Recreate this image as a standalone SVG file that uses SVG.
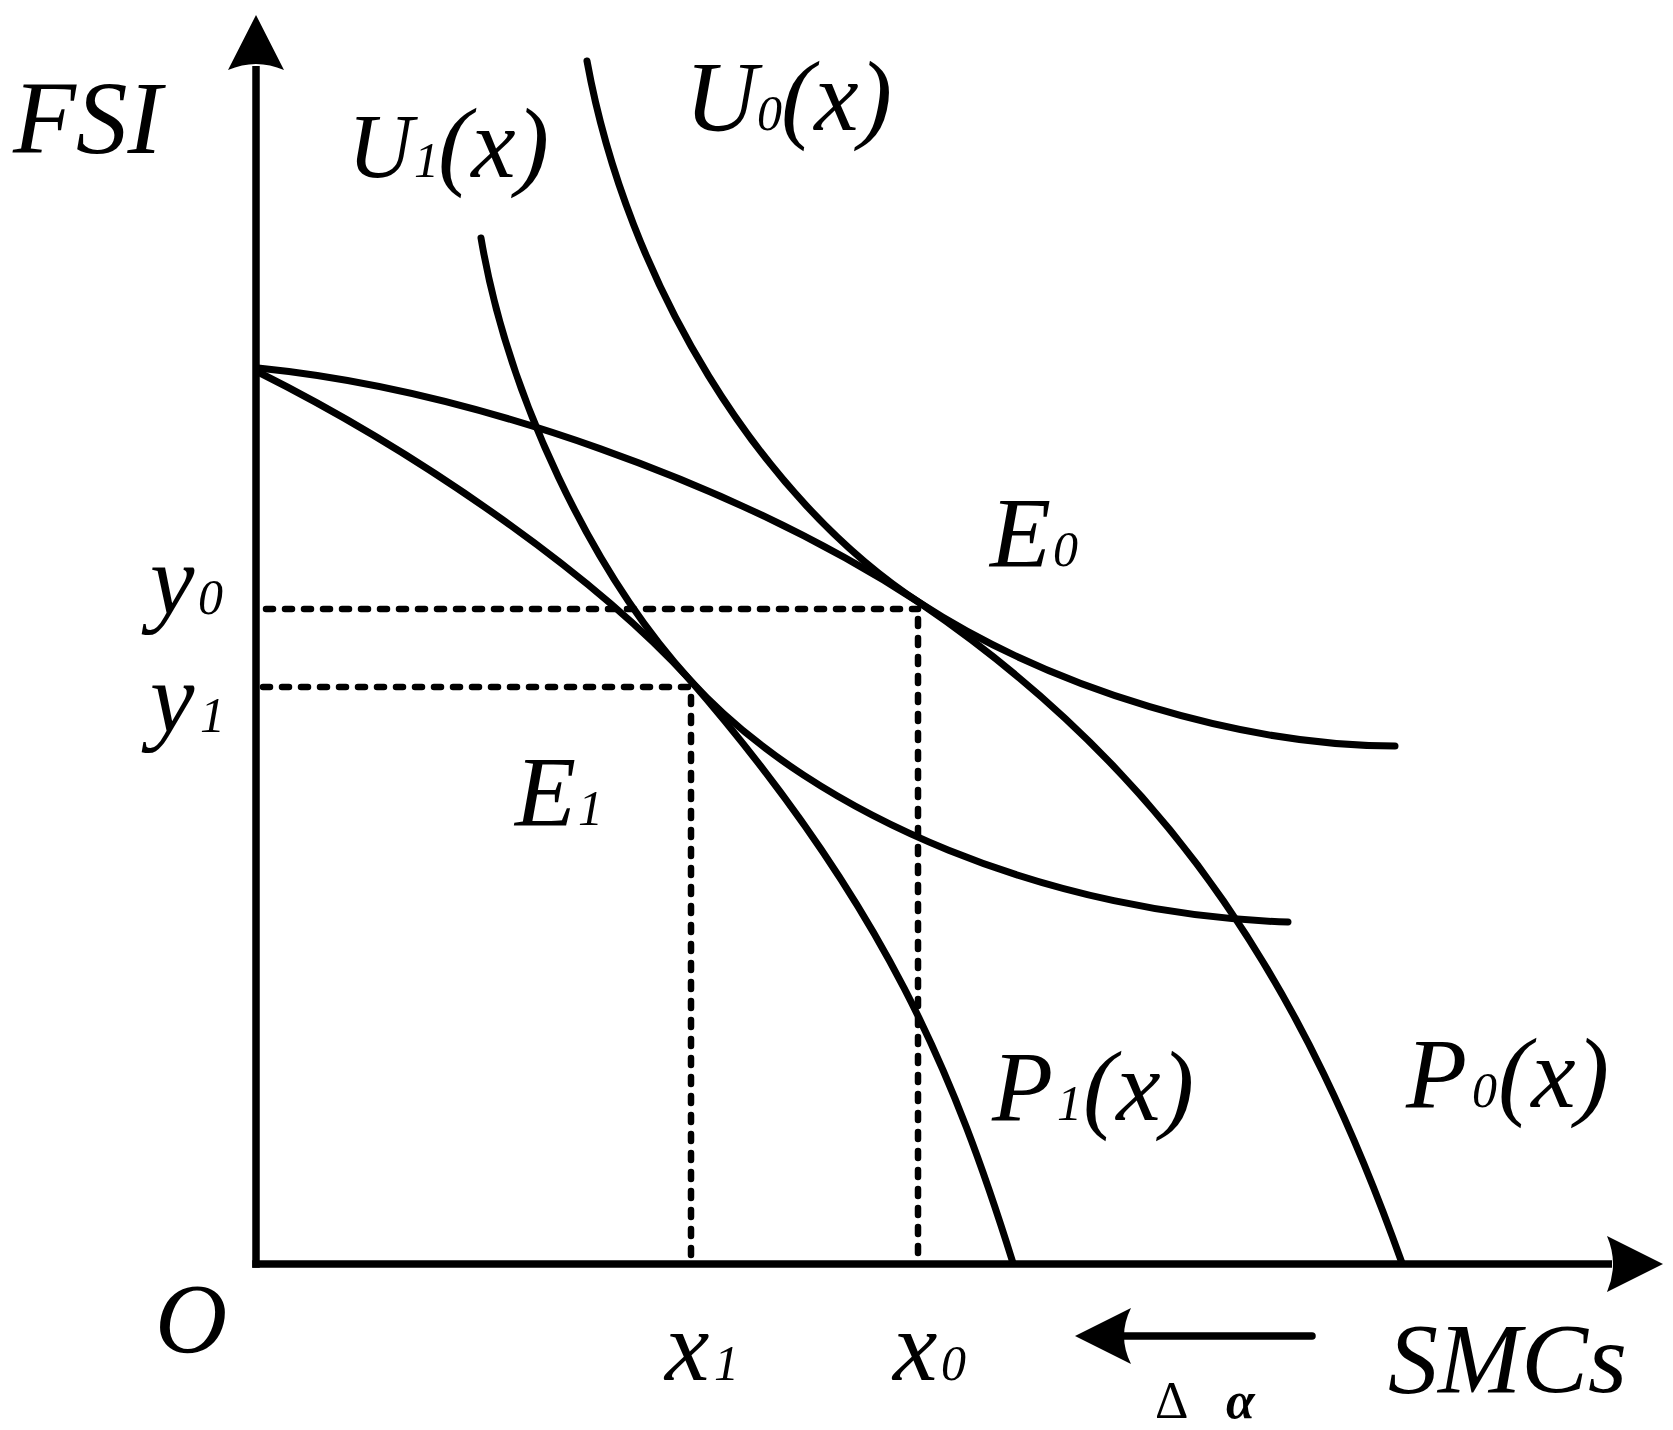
<svg xmlns="http://www.w3.org/2000/svg" width="1673" height="1430" viewBox="0 0 1673 1430">
<style>
.t{font-family:"Liberation Serif","Times New Roman",serif;font-style:italic;fill:#000}
.b{font-size:100px}
.s{font-size:50px}
.c{fill:none;stroke:#000;stroke-width:7;stroke-linecap:round;stroke-linejoin:round}
.d{fill:none;stroke:#000;stroke-width:6.5;stroke-linecap:round;stroke-dasharray:7 12}
.ax{fill:none;stroke:#000;stroke-width:7.5}
</style>
<rect width="1673" height="1430" fill="#fff"/>
<g id="axes">
<line class="ax" x1="256" y1="66" x2="256" y2="1267.75"/>
<line class="ax" x1="252.25" y1="1264" x2="1612" y2="1264"/>
<path d="M256,15 L284,70 Q256,58 228,70 Z" fill="#000"/>
<path d="M1663,1264 L1607,1292 Q1619,1264 1607,1236 Z" fill="#000"/>
</g>
<g id="guides">
<line class="d" x1="266" y1="609" x2="918" y2="609"/>
<line class="d" x1="918" y1="619" x2="918" y2="1258"/>
<line class="d" x1="263" y1="687" x2="691" y2="687"/>
<line class="d" x1="691" y1="697" x2="691" y2="1258"/>
</g>
<g id="connectors">
<path id="P0" class="c" d="M258,368 C471,389.3 735.9,483.3 920,603 C1180.2,780 1308,999.7 1402,1263"/>
<path id="P1" class="c" d="M258,372 C425.2,455.6 598,578.8 690,680 C887.8,907.5 956.2,1081.4 1013,1263"/>
<path id="U1" class="c" d="M481,238 C507.5,394.5 591.1,571.3 690,680 C815.6,818.2 1054.8,915 1288,922"/>
<path id="U0" class="c" d="M587,61 C627.2,282.4 760.4,499.2 920,603 C1052,688.8 1242,746 1395,746"/>
<g id="shift-arrow">
<line x1="1118" y1="1336" x2="1312" y2="1336" stroke="#000" stroke-width="7.5" stroke-linecap="round"/>
<path d="M1075,1336 L1131,1308 Q1117,1336 1131,1364 Z" fill="#000"/>
</g>
</g>
<g id="labels">
<text class="t" x="13" y="153" font-size="103">FSI</text>
<text class="t" x="155" y="1352" font-size="100">O</text>
<text class="t" x="1388" y="1392" font-size="100">SMCs</text>
<g id="lbl-U1"><text class="t" y="177"><tspan class="b" x="348" style="font-size:90px">U</tspan><tspan class="s" x="414">1</tspan><tspan class="b" x="438">(x)</tspan></text></g>
<g id="lbl-U0"><text class="t" y="130"><tspan class="b" x="685">U</tspan><tspan class="s" x="757">0</tspan><tspan class="b" x="781">(x)</tspan></text></g>
<g id="lbl-E0"><text class="t" y="566"><tspan class="b" x="990">E</tspan><tspan class="s" x="1053">0</tspan></text></g>
<g id="lbl-E1"><text class="t" y="825"><tspan class="b" x="515">E</tspan><tspan class="s" x="578">1</tspan></text></g>
<g id="lbl-y0"><text class="t" y="614"><tspan class="b" x="150">y</tspan><tspan class="s" x="198">0</tspan></text></g>
<g id="lbl-y1"><text class="t" y="732"><tspan class="b" x="150">y</tspan><tspan class="s" x="200">1</tspan></text></g>
<g id="lbl-x1"><text class="t" y="1380"><tspan class="b" x="665">x</tspan><tspan class="s" x="714">1</tspan></text></g>
<g id="lbl-x0"><text class="t" y="1380"><tspan class="b" x="893">x</tspan><tspan class="s" x="941">0</tspan></text></g>
<g id="lbl-P1"><text class="t" y="1120"><tspan class="b" x="992">P</tspan><tspan class="s" x="1057">1</tspan><tspan class="b" x="1083">(x)</tspan></text></g>
<g id="lbl-P0"><text class="t" y="1107"><tspan class="b" x="1406">P</tspan><tspan class="s" x="1472">0</tspan><tspan class="b" x="1498">(x)</tspan></text></g>
<g id="lbl-da"><text y="1418" style="font-family:'Liberation Serif','Times New Roman',serif;font-size:52px"><tspan x="1155">Δ</tspan><tspan x="1226" style="font-style:italic;font-weight:bold">α</tspan></text></g>
</g>
</svg>
